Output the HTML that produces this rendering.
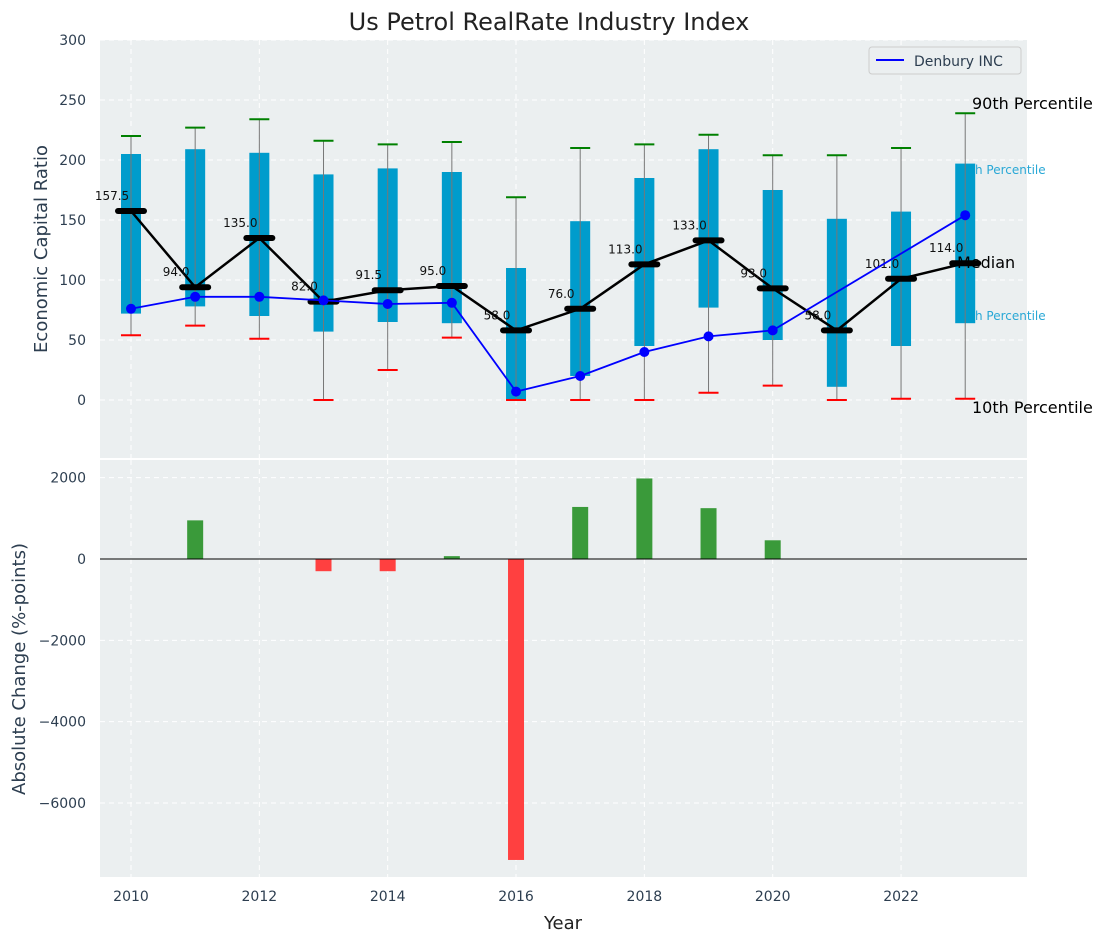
<!DOCTYPE html>
<html><head><meta charset="utf-8"><style>
body{margin:0;background:#fff;font-family:"Liberation Sans","DejaVu Sans",sans-serif;}
text{font-family:"DejaVu Sans","Liberation Sans",sans-serif;}
</style></head><body>
<svg id="chart" width="1107" height="942" xmlns="http://www.w3.org/2000/svg">
<rect width="1107" height="942" fill="#fff"/>
<text x="549" y="30" font-size="24" text-anchor="middle" fill="#222">Us Petrol RealRate Industry Index</text>
<rect x="100" y="40" width="927" height="418" fill="#ebeff0"/>
<rect x="100" y="460" width="927" height="417" fill="#ebeff0"/>
<g id="grid"></g>
<g id="topg"></g>
<g id="botg"></g>
<g id="axes"></g>
</svg>
<script>
const years=[2010,2011,2012,2013,2014,2015,2016,2017,2018,2019,2020,2021,2022,2023];
const p10=[54,62,51,0,25,52,0,0,0,6,12,0,1,1];
const p90=[220,227,234,216,213,215,169,210,213,221,204,204,210,239];
const q25=[72,78,70,57,65,64,0,20,45,77,50,11,45,64];
const q75=[205,209,206,188,193,190,110,149,185,209,175,151,157,197];
const medians=[157.5,94,135,82,91.5,95,58,76,113,133,93,58,101,114];
const denbury=[76,86,86,83,80,81,7,20,40,53,58,null,null,154];
const changes=[0,950,0,-300,-300,70,-7400,1280,1980,1250,460,0,0,0];
const topTicks=[0,50,100,150,200,250,300];
const botTicks=[-6000,-4000,-2000,0,2000];
const xTicks=[2010,2012,2014,2016,2018,2020,2022];

const NS="http://www.w3.org/2000/svg";
function mk(tag,attrs,parent,txt){const e=document.createElementNS(NS,tag);for(const k in attrs)e.setAttribute(k,attrs[k]);if(txt!==undefined)e.textContent=txt;parent.appendChild(e);return e;}
const X=v=>131+(v-2010)*64.17;
const YT=v=>400-v*1.2;
const YB=v=>559-v*0.04067;
const gGrid=document.getElementById('grid'),gTop=document.getElementById('topg'),gBot=document.getElementById('botg'),gAxes=document.getElementById('axes');

xTicks.forEach(t=>{
  mk('line',{x1:X(t),x2:X(t),y1:40,y2:458,stroke:'#fff','stroke-dasharray':'5,4','stroke-width':1},gGrid);
  mk('line',{x1:X(t),x2:X(t),y1:460,y2:877,stroke:'#fff','stroke-dasharray':'5,4','stroke-width':1},gGrid);
  const l=mk('text',{x:X(t),y:901,'font-size':14,'text-anchor':'middle',fill:'#2d3e50'},gAxes,String(t));
  
  
});
topTicks.forEach(t=>{
  mk('line',{x1:100,x2:1027,y1:YT(t),y2:YT(t),stroke:'#fff','stroke-dasharray':'5,4','stroke-width':1},gGrid);
  const l=mk('text',{x:86,y:YT(t)+5,'font-size':14,'text-anchor':'end',fill:'#2d3e50'},gAxes,String(t));
  
  
});
botTicks.forEach(t=>{
  mk('line',{x1:100,x2:1027,y1:YB(t),y2:YB(t),stroke:'#fff','stroke-dasharray':'5,4','stroke-width':1},gGrid);
  const l=mk('text',{x:86,y:YB(t)+5,'font-size':14,'text-anchor':'end',fill:'#2d3e50'},gAxes,t<0?'\u2212'+Math.abs(t):String(t));
  
  
});

years.forEach((y,i)=>{
  const x=X(y);
  const b=mk('rect',{x:x-10,y:YT(q75[i]),width:20,height:YT(q25[i])-YT(q75[i]),fill:'#009ccc'},gTop);
  
  
  const w=mk('line',{x1:x,x2:x,y1:YT(p90[i]),y2:YT(p10[i]),stroke:'#777','stroke-width':1},gTop);
  
  
  const c1=mk('line',{x1:x-10,x2:x+10,y1:YT(p90[i]),y2:YT(p90[i]),stroke:'green','stroke-width':2},gTop);
  
  
  const c2=mk('line',{x1:x-10,x2:x+10,y1:YT(p10[i]),y2:YT(p10[i]),stroke:'red','stroke-width':2},gTop);
  
  
});
const mp=years.map((y,i)=>X(y)+','+YT(medians[i])).join(' ');
const ml=mk('polyline',{points:mp,fill:'none',stroke:'#000','stroke-width':2.5},gTop);


years.forEach((y,i)=>{
  const x=X(y),yy=YT(medians[i]);
  const m=mk('line',{x1:x-13,x2:x+13,y1:yy,y2:yy,stroke:'#000','stroke-width':6,'stroke-linecap':'round'},gTop);
  
  
  const t=mk('text',{x:x-19,y:yy-11,'font-size':12,'text-anchor':'middle',fill:'#111'},gTop,medians[i].toFixed(1));
  
  
});
const seg=[];
years.forEach((y,i)=>{if(denbury[i]!==null)seg.push(X(y)+','+YT(denbury[i]));});
const dl=mk('polyline',{points:seg.join(' '),fill:'none',stroke:'blue','stroke-width':1.8},gTop);


years.forEach((y,i)=>{
  if(denbury[i]===null)return;
  const p=mk('circle',{cx:X(y),cy:YT(denbury[i]),r:5,fill:'blue'},gTop);
  
  
});
[['90th Percentile',972,109,16,'#000'],['Median',957,268,16,'#000'],['10th Percentile',972,413,16,'#000'],['h Percentile',975,174,12,'#29a8d6'],['h Percentile',975,320,12,'#29a8d6']].forEach(a=>{
  const t=mk('text',{x:a[1],y:a[2],'font-size':a[3],fill:a[4]},gTop,a[0]);
  
  
});
const lg=mk('g',{},gTop);


mk('rect',{x:869,y:47,width:152,height:27,rx:3,fill:'#ebeff0',stroke:'#ccc'},lg);
mk('line',{x1:876,x2:904,y1:60,y2:60,stroke:'blue','stroke-width':2},lg);
mk('text',{x:914,y:66,'font-size':14,fill:'#2d3e50'},lg,'Denbury INC');

years.forEach((y,i)=>{
  const v=changes[i];
  if(v===0)return;
  const y0=YB(0),y1=YB(v);
  const r=mk('rect',{x:X(y)-8,y:Math.min(y0,y1),width:16,height:Math.abs(y1-y0),fill:v>0?'#3a9a3a':'#ff4040'},gBot);
  
  
});
const zl=mk('line',{x1:100,x2:1027,y1:YB(0),y2:YB(0),stroke:'#000','stroke-width':1},gBot);



const t1=mk('text',{x:47,y:249,'font-size':18,'text-anchor':'middle',fill:'#2d3e50',transform:'rotate(-90 47 249)'},gAxes,'Economic Capital Ratio');


const t2=mk('text',{x:25,y:669,'font-size':18,'text-anchor':'middle',fill:'#2d3e50',transform:'rotate(-90 25 669)'},gAxes,'Absolute Change (%-points)');


const t3=mk('text',{x:563,y:929,'font-size':18,'text-anchor':'middle',fill:'#222'},gAxes,'Year');


</script>
</body></html>
